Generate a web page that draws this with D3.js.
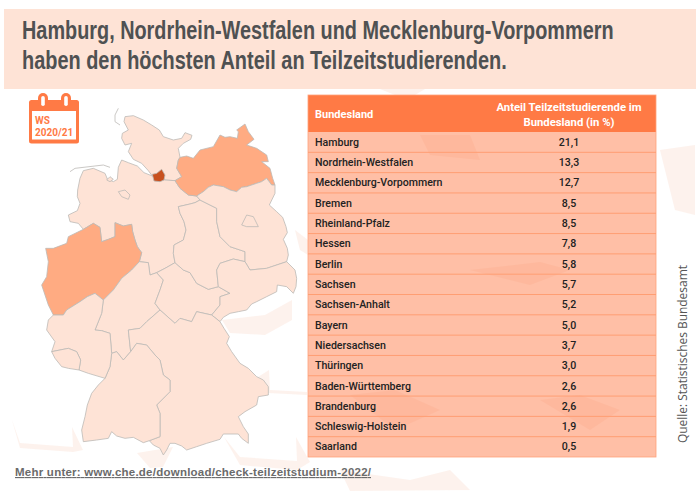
<!DOCTYPE html>
<html>
<head>
<meta charset="utf-8">
<script src="https://cdn.jsdelivr.net/npm/d3@7"></script>
<style>
  html, body { margin: 0; padding: 0; background: #fff; }
  svg { display: block; }
  text { font-family: Roboto, "Liberation Sans", Arial, sans-serif; }
</style>
</head>
<body>
<svg id="chart" width="700" height="491"></svg>
<script>
// table data
const states = ["Hamburg", "Nordrhein-Westfalen", "Mecklenburg-Vorpommern", "Bremen", "Rheinland-Pfalz", "Hessen", "Berlin", "Sachsen", "Sachsen-Anhalt", "Bayern", "Niedersachsen", "Thüringen", "Baden-Württemberg", "Brandenburg", "Schleswig-Holstein", "Saarland"];
const shares = [21.1, 13.3, 12.7, 8.5, 8.5, 7.8, 5.8, 5.7, 5.2, 5.0, 3.7, 3.0, 2.6, 2.6, 1.9, 0.5];
const titleLines = ["Hamburg, Nordrhein-Westfalen und Mecklenburg-Vorpommern", "haben den höchsten Anteil an Teilzeitstudierenden."];
const headerLines = ["Anteil Teilzeitstudierende im", "Bundesland (in %)"];

// map borders in map units, shared between neighbouring states
const elbeEast = [[457,288],[475,296],[495,300],[525,302]];
const elbeWest = [[365,240],[385,248],[412,258],[432,278],[457,288]];
const shMv = [[525,302],[545,290],[530,265],[535,240],[540,232]];
const shCoast = [[540,232],[535,205],[550,190],[572,178],[576,166],[555,158],[545,175],[520,180],[490,170],[478,150],[455,135],[430,120],[400,107],[375,110],[372,125],[385,150],[367,160],[365,175],[375,195],[395,190],[385,215],[400,238],[425,250],[445,272],[457,288]];
const mvCoast = [[540,232],[560,228],[580,235],[600,210],[640,200],[660,165],[675,172],[690,170],[712,175],[715,155],[710,150],[735,132],[745,155],[762,178],[740,195],[770,205],[800,225],[805,245],[785,245],[810,265],[818,295],[825,315]];
const niMv = [[525,302],[540,325],[565,345],[590,348]];
const bbMv = [[590,348],[610,335],[625,322],[640,315],[670,320],[690,330],[710,335],[725,322],[740,320],[770,310],[785,305],[800,295],[815,315],[825,315]];
const niBb = [[590,348],[600,360]];
const stNi = [[600,360],[585,368],[570,372],[535,380],[540,400],[552,425],[558,450],[550,480],[522,495],[520,520],[525,548]];
const niTh = [[525,548],[495,565],[470,578]];
const niHe = [[470,578],[450,585],[445,548],[418,545]];
const niNw = [[418,545],[425,518],[412,500],[405,480],[398,455],[395,433],[370,438],[345,428],[345,470],[325,478],[305,485],[300,442],[280,430],[250,448]];
const niWest = [[250,448],[235,430],[210,425],[205,405],[232,392],[240,370],[232,350],[233,330],[240,295],[250,272],[280,265],[315,280],[322,297],[340,305],[352,298],[355,262],[365,240]];
const nwHe = [[418,545],[395,570],[365,595],[340,630],[310,660]];
const nwRp = [[310,660],[285,640],[262,650],[240,665],[200,690],[190,705],[160,705]];
const nwWest = [[160,705],[145,675],[125,615],[140,590],[145,545],[137,505],[160,505],[200,490],[205,470],[250,448]];
const heRp = [[310,660],[305,700],[285,750],[305,752],[330,760],[335,820]];
const heBw = [[335,820],[350,815],[370,840],[392,815]];
const heBy = [[392,815],[385,750],[420,745],[440,725],[480,690]];
const heTh = [[480,690],[465,670],[480,630],[490,600],[470,578]];
const stTh = [[525,548],[550,570],[570,578],[590,610],[625,628],[655,620]];
const thSn = [[655,620],[690,640],[660,650],[660,675],[635,705]];
const thBy = [[635,705],[590,695],[575,725],[540,715],[525,730],[480,690]];
const stSn = [[655,620],[650,570],[660,550],[700,537],[735,545]];
const stBb = [[735,545],[735,515],[690,500],[660,470],[650,425],[650,385],[600,360]];
const bbEast = [[825,315],[825,340],[808,375],[830,395],[848,412],[858,440],[862,458],[850,478],[862,505],[865,525],[860,545]];
const bbSn = [[860,545],[800,565],[750,570],[735,545]];
const snBy = [[635,705],[660,725]];
const snCz = [[660,725],[670,712],[690,700],[715,695],[740,690],[755,672],[770,665],[800,650],[830,635],[832,615],[860,620],[880,640],[888,620],[890,595],[885,570],[860,545]];
const byEast = [[660,725],[672,745],[688,770],[680,790],[695,815],[720,850],[745,865],[770,890],[790,900],[805,920],[805,945],[775,950],[770,975],[735,995],[715,1010],[730,1040],[745,1062],[745,1090],[725,1075],[715,1062],[670,1062],[660,1078],[620,1090],[590,1100],[560,1110],[545,1098],[525,1090],[510,1090],[500,1110],[490,1125],[480,1105],[460,1095],[448,1082]];
const byBw = [[392,815],[410,790],[440,795],[465,825],[480,840],[490,885],[510,900],[510,935],[470,975],[480,1000],[480,1070],[448,1082]];
const bwOuter = [[448,1082],[430,1088],[400,1072],[375,1075],[350,1068],[335,1055],[325,1075],[290,1080],[250,1085],[245,1050],[255,1010],[262,975],[275,940],[295,915],[315,895]];
const bwRp = [[315,895],[330,860],[335,820]];
const rpFr = [[315,895],[265,880],[237,870]];
const rpSl = [[237,870],[242,840],[230,815],[205,805],[155,815]];
const rpWest = [[155,815],[165,785],[140,750],[145,720],[160,705]];
const slOuter = [[237,870],[205,865],[185,860],[165,835],[155,815]];
const hamburgRing = [[457,283],[470,280],[485,268],[495,285],[492,300],[480,305],[462,303],[457,283]];
const bremenRing = [[355,335],[375,330],[390,345],[385,358],[365,350],[355,335]];
const bremerhavenRing = [[320,300],[330,290],[340,298],[330,305],[320,300]];
const berlinRing = [[725,435],[740,405],[760,410],[775,440],[740,440],[725,435]];
const islandLines = [[[210,275],[225,265],[310,255],[330,262]], [[355,85],[345,105],[345,125],[360,135]]];

// faint background chevrons, page pixels
const bgShapes = [
  [[12,420],[20,443],[73,447],[72,427],[83,450],[73,452],[20,448]],
  [[222,320],[265,315],[292,300],[292,320],[265,335],[230,333]],
  [[258,377],[269,370],[270,390],[307,392],[307,395],[268,393]],
  [[137,453],[173,447],[163,467],[150,468]],
  [[224,437],[240,457],[297,461],[296,437],[310,462],[297,470],[240,465]],
  [[295,230],[300,250],[308,255],[308,240]],
  [[420,135],[430,155],[480,160],[470,135]],
  [[470,270],[530,285],[570,270],[540,262]],
  [[350,395],[395,430],[440,410],[395,390]],
  [[540,400],[590,430],[620,410],[580,395]],
  [[660,150],[695,145],[695,215],[675,210]],
  [[380,89],[395,95],[415,95],[425,89]],
  [[340,470],[410,480],[450,470],[470,490],[350,491]]
];

const orange = "#FF7A45";
const svg = d3.select("#chart");
const rev = a => a.slice().reverse();
const ring = (...parts) => parts.flatMap(p => p);
const feature = (name, ...rings) => ({ type: "Feature", properties: { name }, geometry: { type: "MultiPolygon", coordinates: rings.map(r => [r]) } });

const mapFeatures = [
  feature("Schleswig-Holstein", ring(shCoast, elbeEast, shMv)),
  feature("Niedersachsen", ring(elbeEast, niMv, niBb, stNi, niTh, niHe, niNw, niWest, elbeWest)),
  feature("Mecklenburg-Vorpommern", ring(shMv, mvCoast, rev(bbMv), rev(niMv))),
  feature("Nordrhein-Westfalen", ring(rev(niNw), nwHe, nwRp, nwWest)),
  feature("Hessen", ring(niHe, nwHe, heRp, heBw, heBy, heTh)),
  feature("Thüringen", ring(stTh, thSn, thBy, heTh, rev(niTh))),
  feature("Sachsen-Anhalt", ring(stNi, stTh, stSn, stBb)),
  feature("Brandenburg", ring(bbMv, bbEast, bbSn, stBb, rev(niBb))),
  feature("Sachsen", ring(rev(stSn), thSn, snBy, snCz, bbSn)),
  feature("Bayern", ring(rev(thBy), snBy, byEast, rev(byBw), heBy)),
  feature("Baden-Württemberg", ring(heBw, byBw, bwOuter, bwRp)),
  feature("Rheinland-Pfalz", ring(rev(nwRp), heRp, rev(bwRp), rpFr, rpSl, rpWest)),
  feature("Saarland", ring(rev(rpSl), slOuter)),
  feature("Berlin", berlinRing),
  feature("Bremen", bremenRing, bremerhavenRing),
  feature("Hamburg", hamburgRing)
];

// background
svg.append("g").selectAll("path")
  .data(bgShapes).join("path")
  .attr("d", d => d3.line().curve(d3.curveLinearClosed)(d))
  .attr("fill", "#FBE7DE")
  .attr("opacity", 0.55);

// title box
svg.append("rect").attr("x", 4).attr("y", 9).attr("width", 692).attr("height", 80).attr("fill", "#FEE3D6");

// no condensed bold font installed, so squeeze the bold face to the reference width
const titleWidths = [592, 485];
svg.append("g").selectAll("text")
  .data(titleLines).join("text")
  .style("font-family", "'Liberation Sans', sans-serif")
  .attr("font-size", 25)
  .attr("font-weight", "bold")
  .attr("fill", "#4F5152")
  .text(d => d)
  .attr("transform", function(d, i) {
    const sx = titleWidths[i] / this.getComputedTextLength();
    return `translate(22,${39 + i * 30}) scale(${sx},1)`;
  });

// map
const projection = d3.geoIdentity().scale(1 / 3).translate([0, 80]);
const path = d3.geoPath(projection);
const color = d3.scaleThreshold().domain([10, 20]).range(["#FEE3D6", "#FFAB82", "#C8501E"]);
const shareOf = name => shares[states.indexOf(name)];

svg.append("g").selectAll("path")
  .data(mapFeatures).join("path")
  .attr("d", path)
  .attr("fill", d => color(shareOf(d.properties.name)))
  .attr("stroke", "#BDBAB6")
  .attr("stroke-width", 0.8)
  .attr("stroke-linejoin", "round");

svg.append("path")
  .datum({ type: "MultiLineString", coordinates: islandLines })
  .attr("d", path)
  .attr("fill", "none")
  .attr("stroke", "#BDBAB6")
  .attr("stroke-width", 0.8);

// calendar icon
const icon = svg.append("g");
icon.append("rect").attr("x", 29).attr("y", 100).attr("width", 50).attr("height", 43.5).attr("rx", 2.5).attr("fill", orange);
[43, 66].forEach(x => {
  icon.append("rect").attr("x", x - 5).attr("y", 93).attr("width", 10).attr("height", 15).attr("rx", 5).attr("fill", orange);
  icon.append("rect").attr("x", x - 1.8).attr("y", 96).attr("width", 3.6).attr("height", 10).attr("rx", 1.8).attr("fill", "#fff");
});
icon.append("rect").attr("x", 32).attr("y", 111).attr("width", 44).attr("height", 28.5).attr("fill", "#fff");
icon.append("text").attr("x", 35).attr("y", 123.5).attr("font-size", 10).attr("font-weight", "bold").attr("fill", orange).text("WS");
icon.append("text").attr("x", 35).attr("y", 136).attr("font-size", 10).attr("font-weight", "bold").attr("fill", orange).text("2020/21");

// table
const tableLeft = 308, tableRight = 656, valueX = 569;
const rowY = d3.scaleBand().domain(states).range([132, 457]);

svg.append("rect").attr("x", tableLeft).attr("y", 132).attr("width", tableRight - tableLeft).attr("height", 325)
  .attr("fill", orange).attr("fill-opacity", 0.48);
svg.append("rect").attr("x", tableLeft).attr("y", 95).attr("width", tableRight - tableLeft).attr("height", 37).attr("fill", orange);
svg.append("rect").attr("x", tableLeft).attr("y", 95).attr("width", tableRight - tableLeft).attr("height", 362)
  .attr("fill", "none").attr("stroke", "#FFA27C").attr("stroke-width", 0.8);

svg.append("text").attr("x", 315).attr("y", 118).attr("font-size", 11).attr("font-weight", "bold").attr("fill", "#fff").text("Bundesland");
svg.append("g").selectAll("text")
  .data(headerLines).join("text")
  .attr("x", valueX)
  .attr("y", (d, i) => 110.5 + i * 15)
  .attr("text-anchor", "middle")
  .attr("font-size", 11.3)
  .attr("font-weight", "bold")
  .attr("fill", "#fff")
  .text(d => d);

const rows = svg.append("g").selectAll("g")
  .data(states).join("g")
  .attr("transform", d => `translate(0,${rowY(d)})`);

rows.filter((d, i) => i > 0).append("line")
  .attr("x1", tableLeft).attr("x2", tableRight)
  .attr("stroke", "#FF9E73").attr("stroke-width", 1);

rows.append("text")
  .attr("x", 315)
  .attr("y", rowY.bandwidth() / 2 + 3.6)
  .attr("font-size", 10.6)
  .attr("font-weight", 500)
  .attr("fill", "#222")
  .text(d => d);

rows.append("text")
  .attr("x", valueX)
  .attr("y", rowY.bandwidth() / 2 + 3.6)
  .attr("text-anchor", "middle")
  .attr("font-size", 10.6)
  .attr("font-weight", 500)
  .attr("fill", "#222")
  .text((d, i) => d3.format(".1f")(shares[i]).replace(".", ","));

// footer link and source
svg.append("text").attr("x", 15).attr("y", 476).style("font-family", "'Liberation Sans', sans-serif").attr("font-size", 11.5).attr("font-weight", "bold")
  .attr("fill", "#6B6B6B").attr("text-decoration", "underline").attr("textLength", 356)
  .text("Mehr unter: www.che.de/download/check-teilzeitstudium-2022/");

svg.append("text").attr("transform", "translate(687,443) rotate(-90)")
  .style("font-family", "'Open Sans', sans-serif").attr("font-size", 12).attr("fill", "#555")
  .attr("textLength", 178).text("Quelle: Statistisches Bundesamt");
</script>
</body>
</html>
